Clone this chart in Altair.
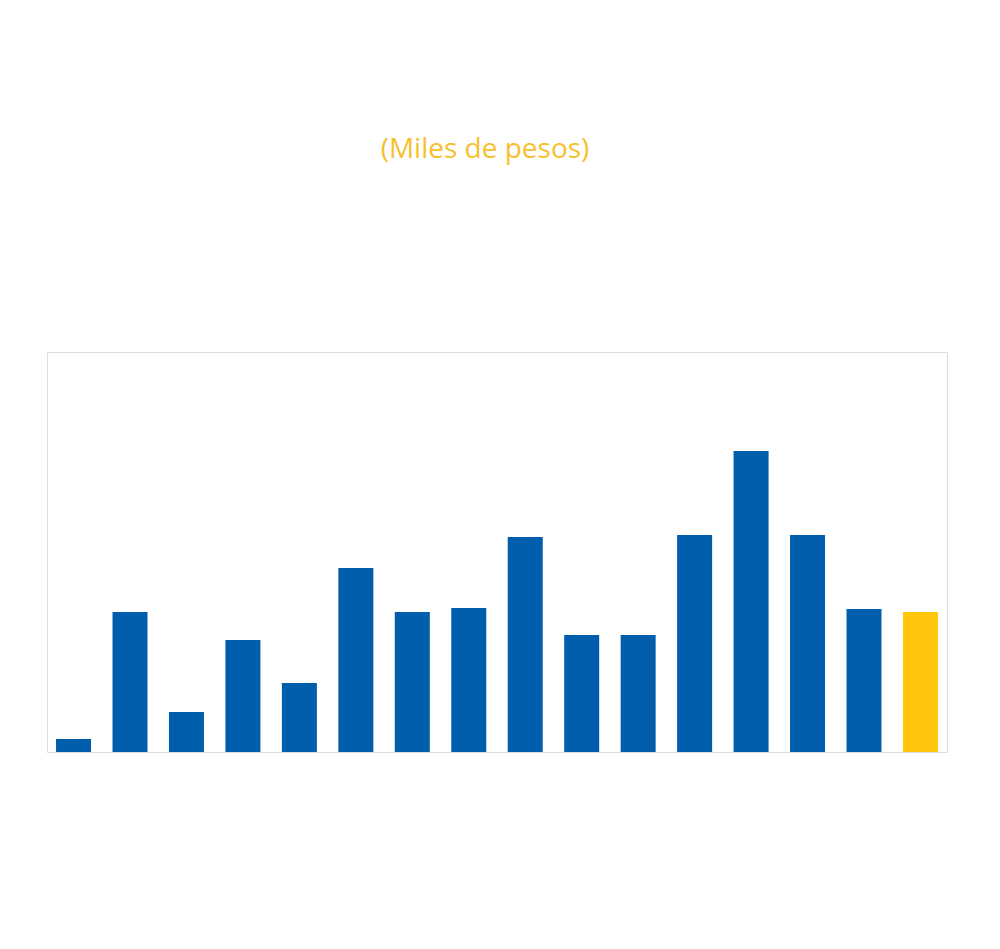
import altair as alt
import pandas as pd

categories = [f"C{i+1}" for i in range(16)]
values = [13, 140, 40, 112, 69, 184, 140, 144, 215, 117, 117, 217, 301, 217, 143, 140]
colors = ["#005EAD"] * 15 + ["#FFC60B"]

df = pd.DataFrame({"cat": categories, "val": values, "col": colors})

chart = alt.Chart(df).mark_bar().encode(
    x=alt.X("cat:N", sort=categories, axis=None,
            scale=alt.Scale(paddingInner=0.38, paddingOuter=0.16)),
    y=alt.Y("val:Q", axis=None, scale=alt.Scale(domain=[0, 400], nice=False)),
    color=alt.Color("col:N", scale=None),
).properties(
    width=900, height=400,
    autosize=alt.AutoSizeParams(type="none"),
    padding={"left": 39, "top": 344, "right": 40, "bottom": 180},
    title=alt.TitleParams("(Miles de pesos)", color="#F5C12E", fontSize=28,
                          font="Open Sans", fontWeight="normal", anchor="middle",
                          baseline="bottom", offset=160, dx=-12),
).configure_view(strokeWidth=0, strokeOpacity=0).configure(background="white")

chart.save("out.html", embed_options={"renderer": "svg", "actions": False})
